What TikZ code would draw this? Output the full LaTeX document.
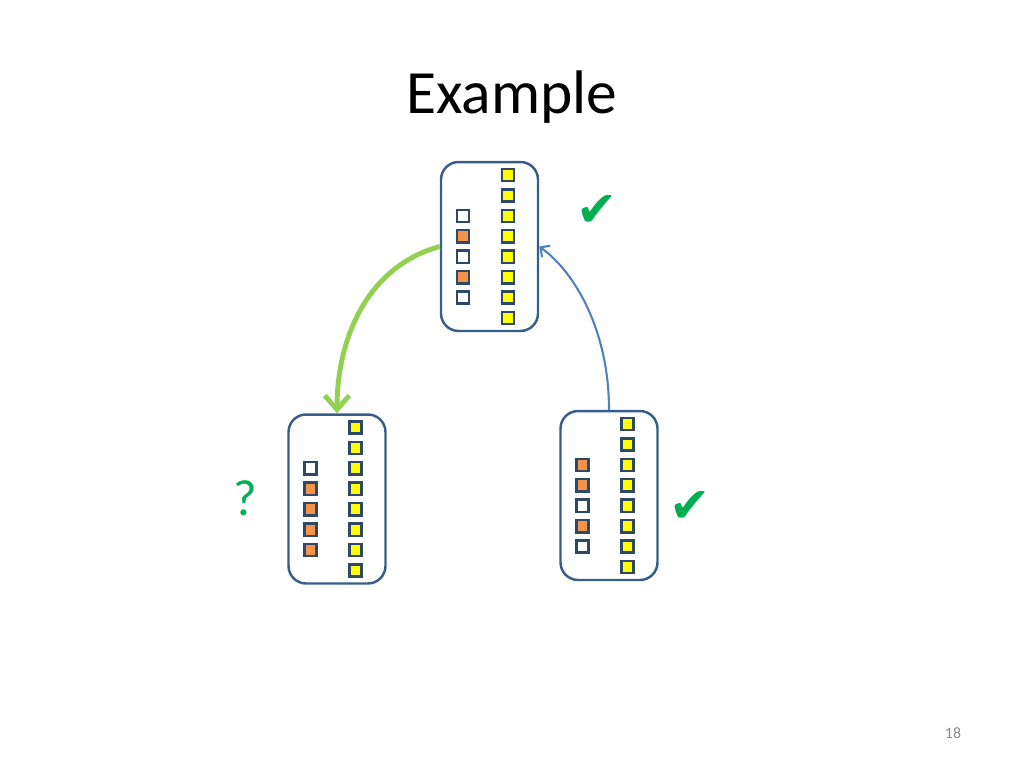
\documentclass[tikz,border=0pt]{standalone}
\usepackage{fontspec}
\setmainfont{Carlito}
\newfontfamily\checkfont{DejaVu Sans}
\usepackage{tikz}
\usetikzlibrary{arrows.meta,positioning,calc}
\tikzset{
  panel/.style  ={draw=panelblue, line width=1.4pt, rounded corners=10pt,
                  minimum width=1.94cm, minimum height=3.38cm, inner sep=0pt},
  cell/.style   ={draw=cellblue, line width=1.4pt, minimum size=0.245cm,
                  inner sep=0pt, fill=#1},
  cell/.default=white,
  chkmark/.style={text=markgreen, font=\checkfont\fontsize{28}{32}\selectfont,
                  inner sep=0pt},
  garr/.style   ={-{Straight Barb[length=8pt,width=14pt]}, line width=2.8pt,
                  arrowgreen},
  barr/.style   ={-{Straight Barb[length=4pt,width=8pt]}, line width=1.2pt,
                  arrowblue},
}
\definecolor{panelblue} {RGB}{56,93,138}
\definecolor{cellblue}  {RGB}{48,72,104}
\definecolor{cellyellow}{RGB}{255,255,0}
\definecolor{cellorange}{RGB}{245,148,72}
\definecolor{markgreen} {RGB}{0,176,80}
\definecolor{arrowgreen}{RGB}{146,208,80}
\definecolor{arrowblue} {RGB}{79,129,189}
\definecolor{pagegray}  {RGB}{137,137,137}

% #1 panel name, #2 fills of the short column
\newcommand{\fillpanel}[2]{%
  \foreach \k in {0,...,7}
    \node[cell=cellyellow] (#1-r\k) at ($(#1)+(18.5,{-71.5+20.43*\k})$) {};
  \foreach \f [count=\k from 2] in {#2}
    \node[cell=\f] (#1-l\k) at ($(#1)+(-26.5,{-71.5+20.43*\k})$) {};
}

\begin{document}
\begin{tikzpicture}[x=0.02cm,y=-0.02cm]
  \useasboundingbox (0,0) rectangle (1024,768);
  \node[font=\fontsize{35}{42}\selectfont] (title) at (512,97) {Example};

  \node[panel] (topset)   at (489.5,246.5) {};
  \node[panel] (leftset)  at (337,499) {};
  \node[panel] (rightset) at (609,495.5) {};
  \fillpanel{topset}{white,cellorange,white,cellorange,white}
  \fillpanel{leftset}{white,cellorange,cellorange,cellorange,cellorange}
  \fillpanel{rightset}{cellorange,cellorange,white,cellorange,white}

  \node[chkmark] (topcheck)   at (597,211) {✔};
  \node[chkmark] (rightcheck) at (690,507) {✔};
  \node[text=markgreen, font=\fontsize{29}{34}\selectfont] (query) at (245,498) {?};

  \draw[garr] (topset.west) .. controls +(-73,20) and +(0,-74) .. (leftset.north);
  \draw[barr] (rightset.north) .. controls +(0,-80) and +(35,25) .. (topset.east);

  \node[text=pagegray, font=\fontsize{9}{11}\selectfont] (pagenum) at (953,733) {18};
\end{tikzpicture}
\end{document}
